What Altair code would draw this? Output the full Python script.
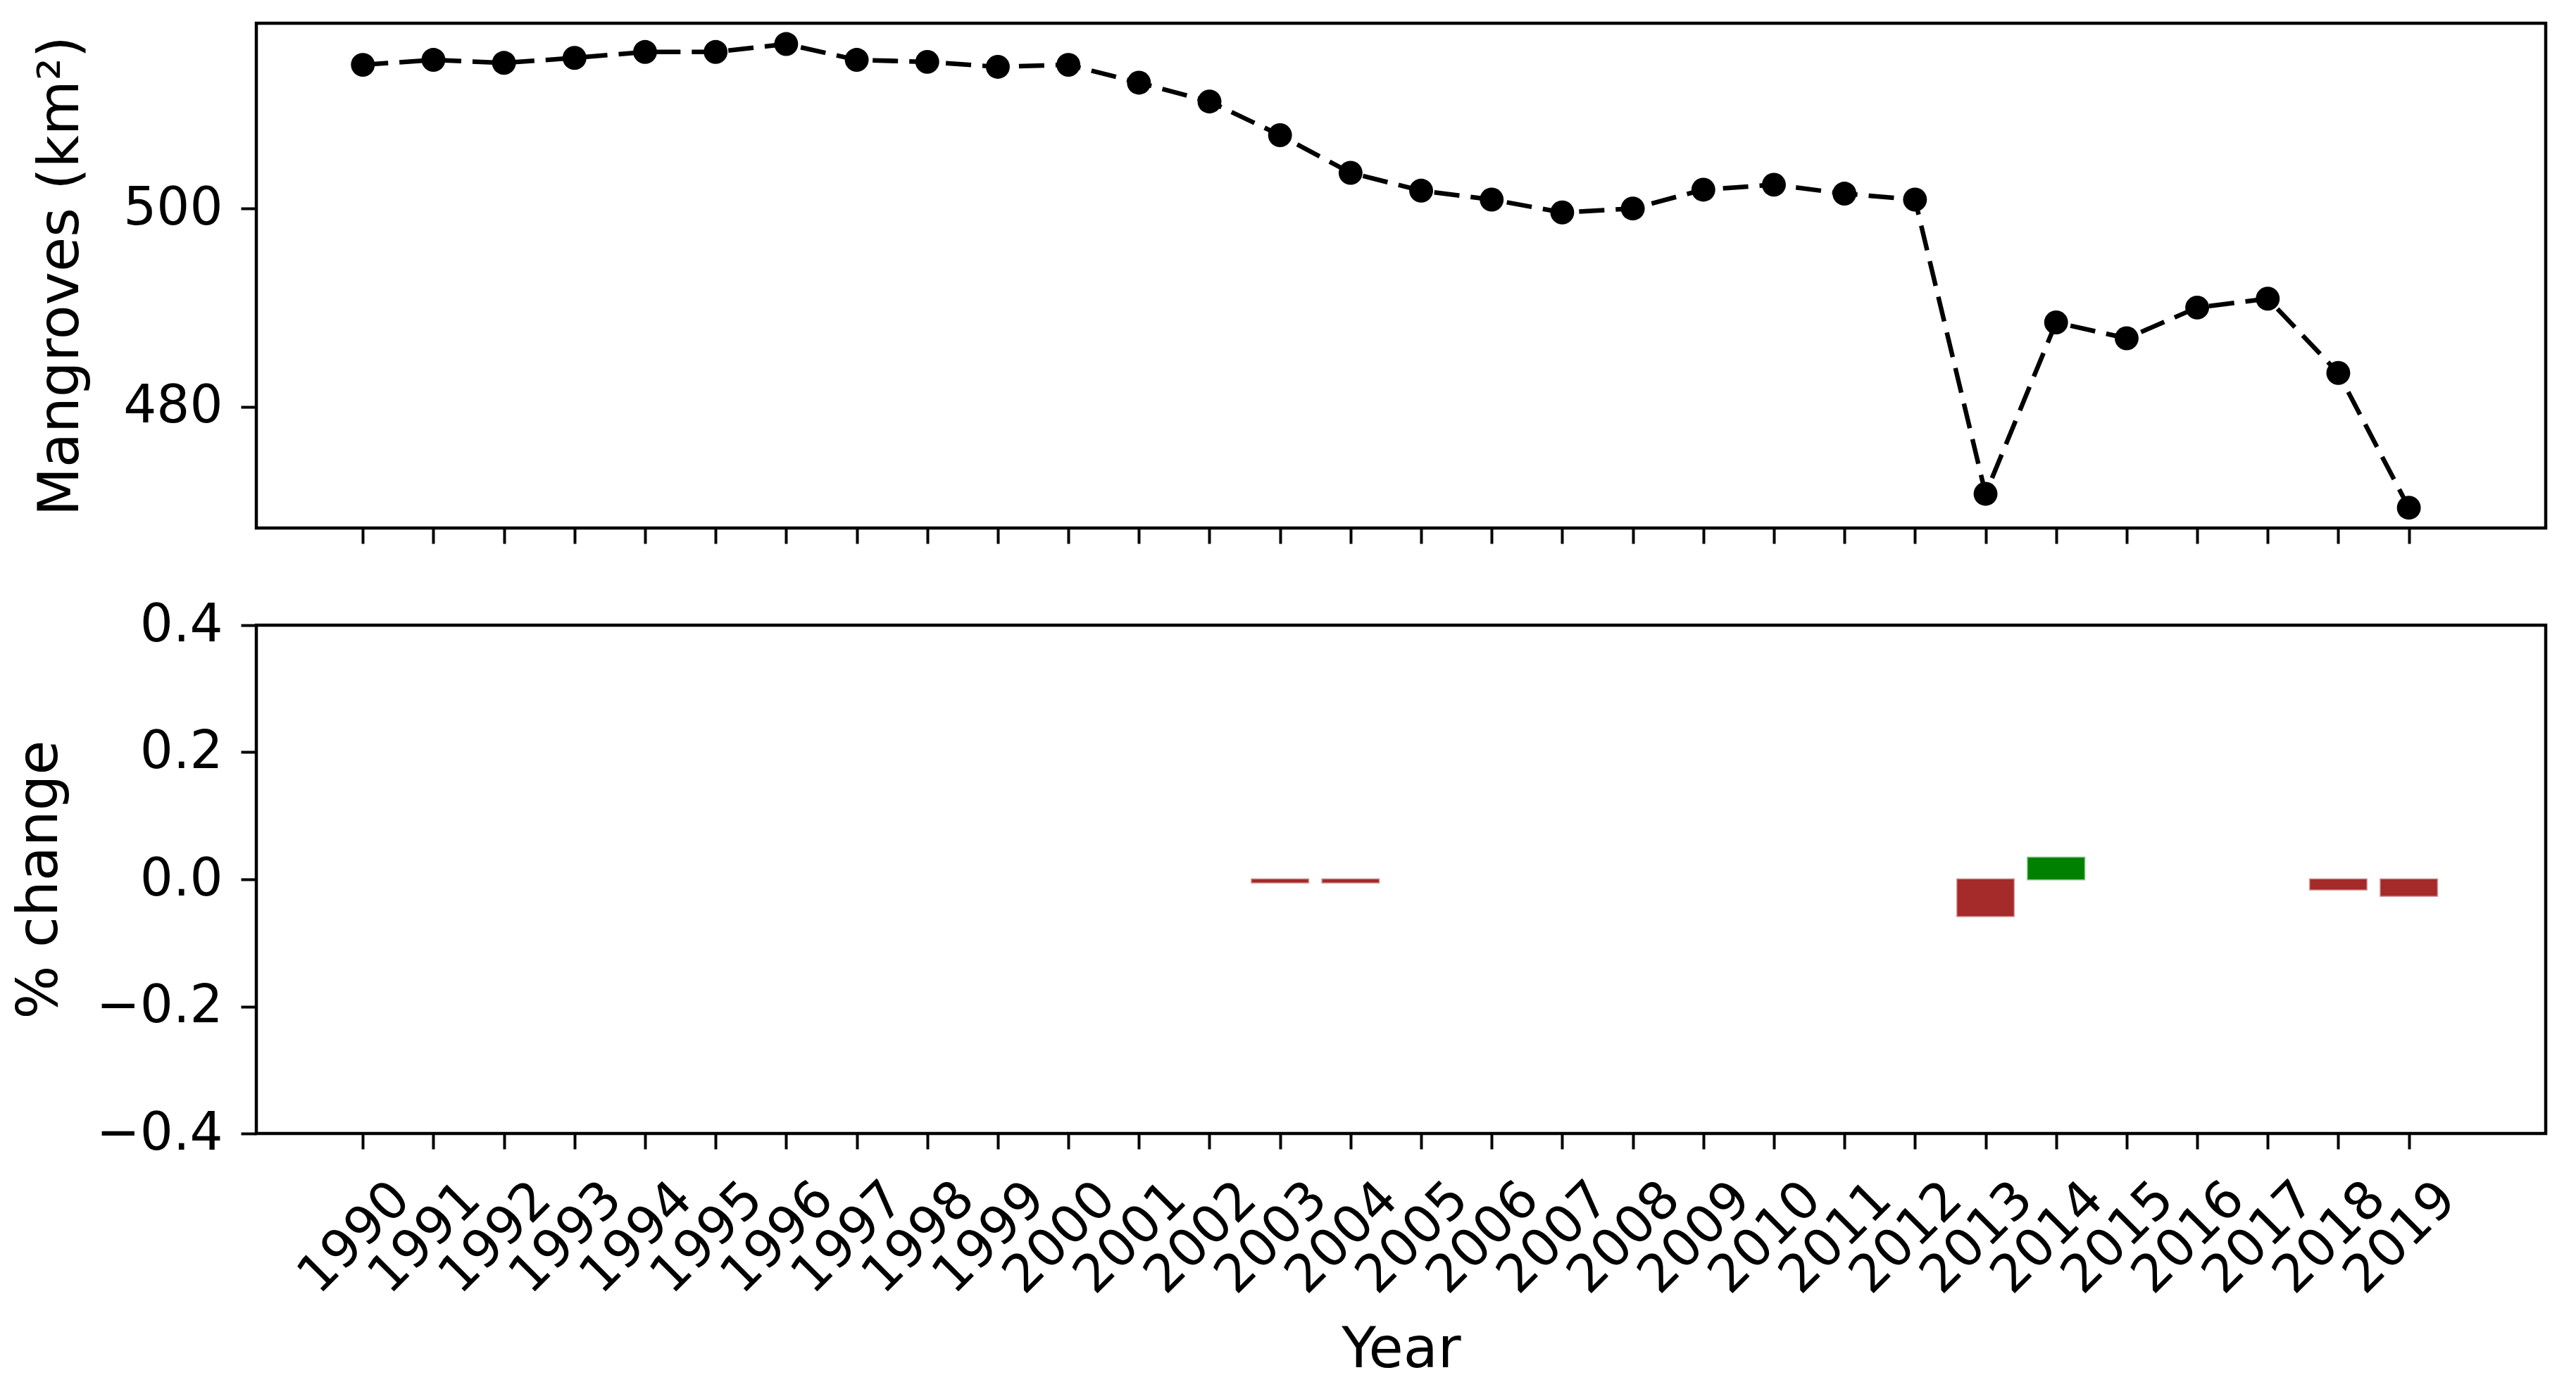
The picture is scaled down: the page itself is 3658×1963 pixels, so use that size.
import altair as alt
import pandas as pd

years = list(range(1990, 2020))
mangroves = [514.5, 515.0, 514.7, 515.2, 515.8, 515.8, 516.6, 515.0, 514.8, 514.3,
             514.5, 512.7, 510.8, 507.4, 503.6, 501.8, 500.9, 499.6, 500.0, 501.9,
             502.4, 501.5, 500.9, 471.2, 488.5, 486.9, 490.0, 490.9, 483.4, 469.8]
bar_years = [2003, 2004, 2013, 2014, 2018, 2019]
pct_change = [-0.005, -0.005, -0.058, 0.034, -0.016, -0.026]
top_ticks = [480, 500]
bottom_ticks = [-0.4, -0.2, 0.0, 0.2, 0.4]

FONT = "DejaVu Sans"
LABEL_SIZE = 74
TITLE_SIZE = 80
W = 3251

df_line = pd.DataFrame({"year": years, "area": mangroves})
df_bar = pd.DataFrame({"year": bar_years, "pct": pct_change})

x_scale = alt.Scale(domain=[1988.49, 2020.94], nice=False, zero=False)

top_x_axis = alt.Axis(values=years, labels=False, title=None, ticks=True, tickSize=22,
                      tickWidth=4, tickColor="black", domain=False, grid=False)
top_y_axis = alt.Axis(values=top_ticks, title="Mangroves (km²)", titleX=-254,
                      titleBaseline="alphabetic", titleAngle=270, titleAlign="center",
                      tickSize=22, tickWidth=4, tickColor="black", domain=False, grid=False,
                      labelPadding=26)

base_top = alt.Chart(df_line).encode(
    x=alt.X("year:Q", scale=x_scale, axis=top_x_axis),
    y=alt.Y("area:Q", scale=alt.Scale(domain=[467.75, 518.7], nice=False, zero=False),
            axis=top_y_axis),
)
line = base_top.mark_line(color="black", strokeWidth=6.5, strokeDash=[36, 16])
pts = base_top.mark_circle(color="black", size=1150, opacity=1)
top = alt.layer(line, pts).properties(width=W, height=717)

bottom_x_axis = alt.Axis(values=years, format="d", title="Year", titleY=331,
                         titleBaseline="alphabetic", labelAngle=315, labelAlign="center",
                         labelBaseline="middle", labelPadding=126, labelOffset=-12,
                         labelOverlap=False, labelFlush=False, labelBound=False, labelLimit=0,
                         tickSize=22, tickWidth=4, tickColor="black", domain=False, grid=False)
bottom_y_axis = alt.Axis(values=bottom_ticks, format=".1f", title="% change", titleX=-284,
                         titleBaseline="alphabetic", titleAngle=270, titleAlign="center",
                         tickSize=22, tickWidth=4, tickColor="black", domain=False, grid=False,
                         labelPadding=26)

bars = alt.Chart(df_bar).transform_calculate(
    x0="datum.year - 0.4", x1="datum.year + 0.4", zero="0",
    sign="datum.pct > 0 ? 'up' : 'down'"
).mark_bar(strokeWidth=3, strokeOpacity=0.45).encode(
    x=alt.X("x0:Q", scale=x_scale, axis=bottom_x_axis),
    x2="x1:Q",
    y=alt.Y("pct:Q", scale=alt.Scale(domain=[-0.4, 0.4], nice=False), axis=bottom_y_axis),
    y2="zero:Q",
    color=alt.Color("sign:N", scale=alt.Scale(domain=["down", "up"], range=["#a52a2a", "#008000"]), legend=None),
    stroke=alt.Stroke("sign:N", scale=alt.Scale(domain=["down", "up"], range=["#a52a2a", "#008000"]), legend=None),
).properties(width=W, height=722)

chart = alt.vconcat(top, bars, spacing=138, bounds="flush")

chart = chart.properties(
    padding={"top": 22, "left": 5, "right": 5, "bottom": 5},
    background="white",
).configure_view(
    stroke="black", strokeWidth=4.5, fill="white"
).configure_axis(
    labelFont=FONT, titleFont=FONT, labelFontSize=LABEL_SIZE, titleFontSize=TITLE_SIZE,
    labelColor="black", titleColor="black", titleFontWeight="normal",
)

chart.save("out.html", embed_options={"renderer": "svg", "actions": False})
